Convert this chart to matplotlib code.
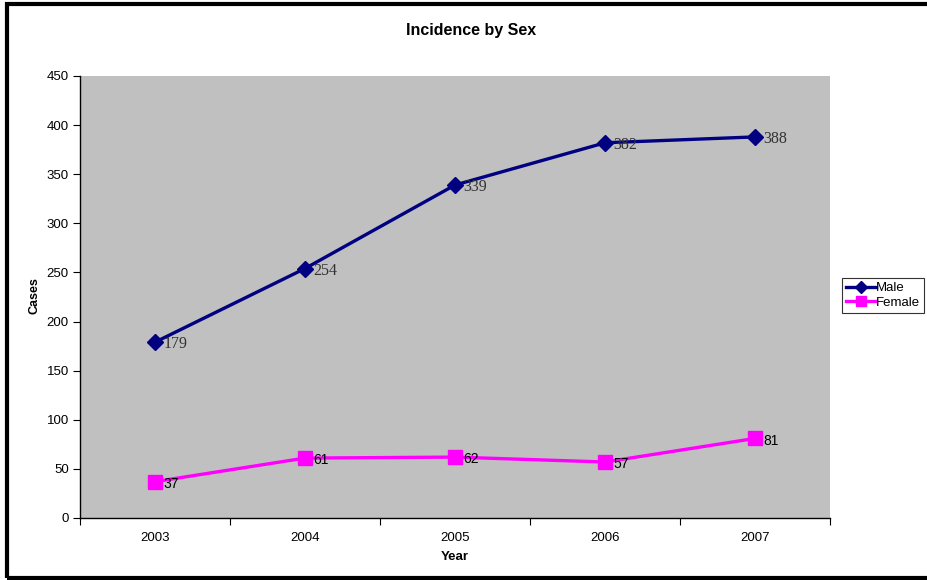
import matplotlib
matplotlib.use("Agg")
import matplotlib.pyplot as plt
from matplotlib.patches import Rectangle

# 数据
years = ["2003", "2004", "2005", "2006", "2007"]
male = [179, 254, 339, 382, 388]
female = [37, 61, 62, 57, 81]

plt.rcParams['font.family'] = ['Liberation Sans', 'DejaVu Sans']

fig = plt.figure(figsize=(9.27, 5.8), dpi=100)
ax = fig.add_axes([80 / 927, 1 - 518 / 580, 750 / 927, 442 / 580])
ax.set_facecolor('#C0C0C0')

x = list(range(len(years)))
ax.plot(x, male, color='#000080', linewidth=2.4, marker='D', markersize=8,
        label='Male')
ax.plot(x, female, color='#FF00FF', linewidth=2.4, marker='s', markersize=9.5,
        label='Female')

# 数据标签
for i, v in enumerate(male):
    ax.annotate(str(v), (i, v), xytext=(6, -1.5), textcoords='offset points',
                ha='left', va='center', fontsize=11.5, color='#333333',
                family='Liberation Serif')
for i, v in enumerate(female):
    ax.annotate(str(v), (i, v), xytext=(6, -1.5), textcoords='offset points',
                ha='left', va='center', fontsize=10, color='black')

ax.set_xlim(-0.5, 4.5)
ax.set_ylim(0, 450)
ax.set_yticks(range(0, 451, 50))
ax.set_xticks([i - 0.5 for i in range(len(years) + 1)])
ax.set_xticklabels([])
ax.set_xticks(x, minor=True)
ax.set_xticklabels(years, minor=True)
ax.tick_params(axis='x', which='minor', length=0, pad=10, labelsize=9.5)
ax.tick_params(axis='x', which='major', length=5, direction='out')
ax.tick_params(axis='y', length=5, direction='out', labelsize=9.5, pad=3)

for s in ['top', 'right']:
    ax.spines[s].set_visible(False)
for s in ['left', 'bottom']:
    ax.spines[s].set_color('black')
    ax.spines[s].set_linewidth(1)

fig.text(471 / 927, 1 - 30 / 580, "Incidence by Sex", ha='center', va='center',
         fontsize=11.5, fontweight='bold')
fig.text(455 / 927, 1 - 557 / 580, "Year", ha='center', va='center',
         fontsize=9.5, fontweight='bold')
fig.text(35 / 927, 1 - 296 / 580, "Cases", ha='center', va='center',
         rotation=90, fontsize=9, fontweight='bold')

leg = fig.legend(loc='upper left', bbox_to_anchor=(842 / 927, 1 - 278 / 580),
                 fontsize=9.5, frameon=True, fancybox=False, edgecolor='black',
                 handlelength=2.3, handletextpad=0.0, borderpad=0.3,
                 labelspacing=0.2, borderaxespad=0, markerscale=0.8)
leg.get_frame().set_linewidth(0.8)

# 外边框
fig.patches.append(Rectangle((7 / 927, 2 / 580), 1.0, 1 - 6 / 580,
                             transform=fig.transFigure, fill=False,
                             edgecolor='black', linewidth=3, zorder=10))

plt.savefig("out.png", dpi=100)
